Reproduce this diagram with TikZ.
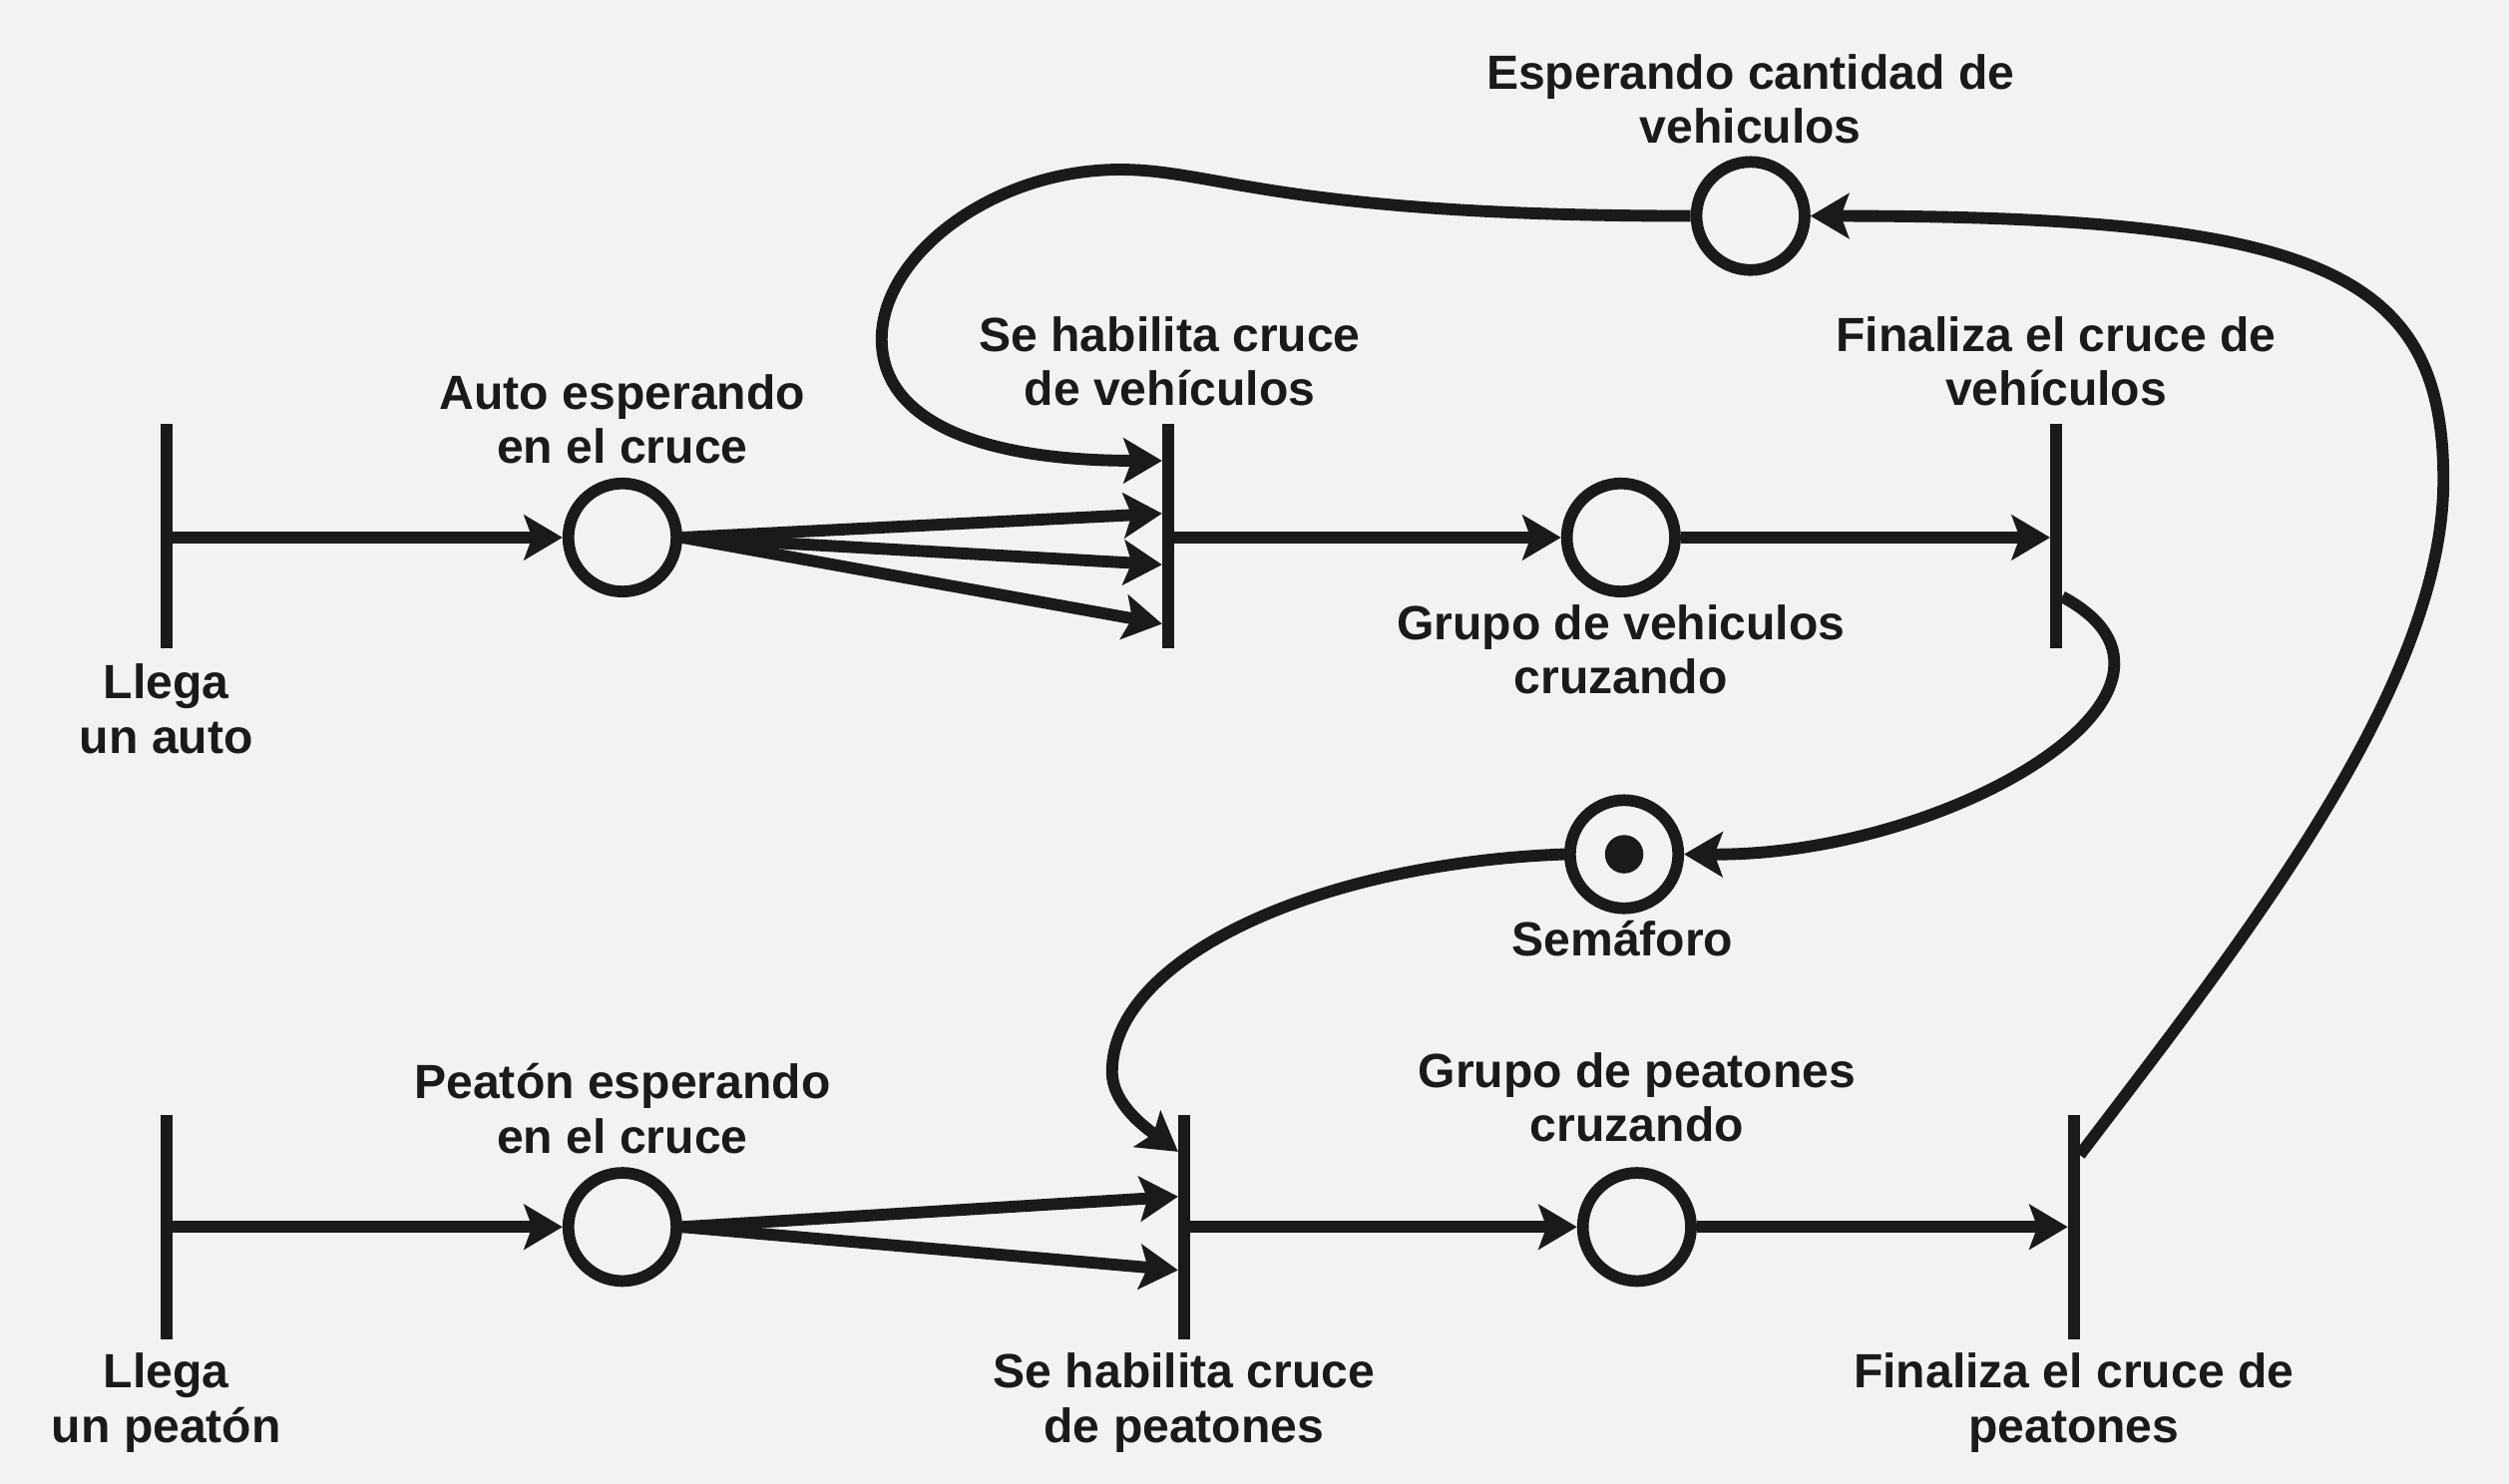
\documentclass[tikz,border=0pt]{standalone}
\usepackage{fontspec}
\setmainfont{Liberation Sans}
\usetikzlibrary{arrows.meta,calc}
\definecolor{bg}{HTML}{F2F2F2}
\definecolor{ink}{HTML}{1A1A1A}
\begin{document}
\begin{tikzpicture}[x=0.5pt,y=-0.5pt,
  place/.style={circle,draw=ink,line width=3.65pt,minimum size=33.8pt,inner sep=0pt},
  trans/.style={rectangle,fill=ink,minimum width=3.75pt,minimum height=70pt,inner sep=0pt,outer sep=0pt},
  lbl/.style={align=center,inner sep=0pt,text=ink,font=\fontsize{15pt}{17pt}\selectfont\bfseries},
  arc/.style={draw=ink,line width=3.7pt,-{Stealth[length=12pt,width=14pt,inset=2.5pt]}},
  token/.style={circle,fill=ink,minimum size=12pt,inner sep=0pt}]
\useasboundingbox (0,0) rectangle (1568,927.7);
\fill[bg] (0,0) rectangle (1568,927.7);

% transitions
\node[trans] (T1) at (104,335) {};
\node[trans] (T2) at (730,335) {};
\node[trans] (T3) at (1285,335) {};
\node[trans] (T6) at (104,767) {};
\node[trans] (T5) at (740,767) {};
\node[trans] (T4) at (1296,767) {};

% places
\node[place] (P1) at (389,336) {};
\node[place] (P2) at (1013,336) {};
\node[place] (P5) at (1094,135) {};
\node[place] (P6) at (1015,534) {};
\node[place] (P7) at (389,767) {};
\node[place] (P8) at (1023,767) {};
\node[token] (K6) at (P6) {};

% labels
\node[lbl] (L5) at (1094,62) {Esperando cantidad de\\vehiculos};
\node[lbl] (L1) at (389,262) {Auto esperando\\en el cruce};
\node[lbl] (L2) at (731,226) {Se habilita cruce\\de vehículos};
\node[lbl] (L3) at (1285,226) {Finaliza el cruce de\\vehículos};
\node[lbl] (LT1) at (104,443) {Llega\\un auto};
\node[lbl] (LP2) at (1013,406) {Grupo de vehiculos\\cruzando};
\node[lbl] (LP6) at (1014,587) {Semáforo};
\node[lbl] (LP7) at (389,693) {Peatón esperando\\en el cruce};
\node[lbl] (LP8) at (1023,686) {Grupo de peatones\\cruzando};
\node[lbl] (LT6) at (104,877) {Llega\\un peatón};
\node[lbl] (LT5) at (740,877) {Se habilita cruce\\de peatones};
\node[lbl] (LT4) at (1296,877) {Finaliza el cruce de\\peatones};

% connectors, vehicles
\draw[arc] (T1.east |- P1.west) -- (P1.west);
\draw[arc] (P1.east) -- ($(T2.west)+(0,-14)$);
\draw[arc] (P1.east) -- ($(T2.west)+(0,18)$);
\draw[arc] (P1.east) -- ($(T2.west)+(0,55)$);
\draw[arc] (T2.east |- P2.west) -- (P2.west);
\draw[arc] (P2.east) -- (T3.west |- P2.east);
\draw[arc] ($(T3.east)+(0,38)$) .. controls (1395,430) and (1220,535) .. (P6.east);
\draw[arc] (P6.west) .. controls (820,540) and (695,600) .. (695,670)
  .. controls (695,690) and (716,705) .. ($(T5.west)+(0,-47)$);
\draw[arc] ($(T4.east)+(0,-45)$) .. controls (1400,590) and (1527,430) .. (1527,300)
  .. controls (1527,170) and (1450,135) .. (P5.east);
\draw[arc] (P5.west) .. controls (800,135) and (760,106) .. (700,106)
  .. controls (620,106) and (551,160) .. (551,212)
  .. controls (551,262) and (610,288) .. ($(T2.west)+(0,-47)$);

% connectors, pedestrians
\draw[arc] (T6.east |- P7.west) -- (P7.west);
\draw[arc] (P7.east) -- ($(T5.west)+(0,-19)$);
\draw[arc] (P7.east) -- ($(T5.west)+(0,27)$);
\draw[arc] (T5.east |- P8.west) -- (P8.west);
\draw[arc] (P8.east) -- (T4.west |- P8.east);
\end{tikzpicture}
\end{document}
